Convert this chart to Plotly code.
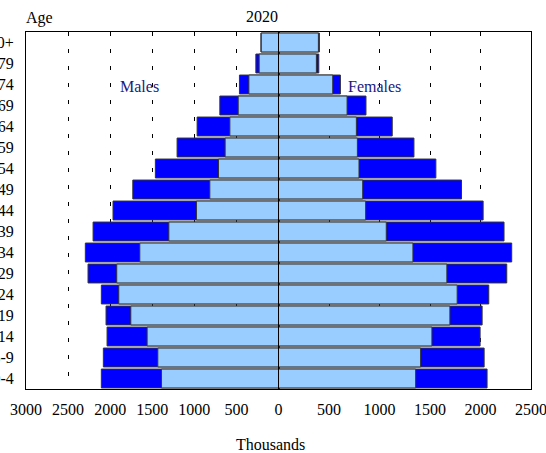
import plotly.graph_objects as go

ages = ["0-4", "5-9", "10-14", "15-19", "20-24", "25-29", "30-34", "35-39", "40-44",
        "45-49", "50-54", "55-59", "60-64", "65-69", "70-74", "75-79", "80+"]
male_total = [2105, 2081, 2037, 2049, 2105, 2263, 2295, 2203, 1966, 1731, 1463, 1205, 967, 697, 464, 269, 209]
male_part = [1391, 1434, 1561, 1755, 1898, 1922, 1648, 1303, 975, 816, 713, 634, 578, 479, 352, 230, 205]
female_total = [2065, 2036, 1996, 2016, 2082, 2260, 2309, 2233, 2026, 1812, 1558, 1341, 1126, 866, 613, 399, 405]
female_part = [1358, 1407, 1519, 1697, 1769, 1667, 1331, 1067, 863, 834, 797, 781, 771, 679, 537, 375, 395]
left_ticks = [3000, 2500, 2000, 1500, 1000, 500]
right_ticks = [0, 500, 1000, 1500, 2000, 2500]

DARK = "#0000ff"
LIGHT = "#99ccff"
EDGE = "#333333"
FONT = "Liberation Serif, Times New Roman, serif"
tf = dict(family=FONT, size=16, color="#000000")

fig = go.Figure()
fig.add_trace(go.Bar(y=ages, x=male_total, orientation="h", xaxis="x", yaxis="y",
                     marker=dict(color=DARK, line=dict(color=EDGE, width=1)), name="Males"))
fig.add_trace(go.Bar(y=ages, x=male_part, orientation="h", xaxis="x", yaxis="y",
                     marker=dict(color=LIGHT, line=dict(color=EDGE, width=1)), name="Males part"))
fig.add_trace(go.Bar(y=ages, x=female_total, orientation="h", xaxis="x2", yaxis="y2",
                     marker=dict(color=DARK, line=dict(color=EDGE, width=1)), name="Females"))
fig.add_trace(go.Bar(y=ages, x=female_part, orientation="h", xaxis="x2", yaxis="y2",
                     marker=dict(color=LIGHT, line=dict(color=EDGE, width=1)), name="Females part"))

grid = dict(showgrid=True, gridcolor="#000000", gridwidth=1, griddash="4px,13px")
fig.update_layout(
    width=546, height=453,
    margin=dict(l=26, r=15, t=32, b=64, autoexpand=False),
    paper_bgcolor="white", plot_bgcolor="white",
    barmode="overlay", bargap=0.1,
    showlegend=False,
    font=tf,
    xaxis=dict(domain=[0, 0.5], range=[3000, 0], tickvals=left_ticks, ticks="",
               showline=True, linecolor="#000000", linewidth=1, mirror=True, automargin=False,
               zeroline=False, ticklabelstandoff=6, tickfont=tf, ticklabeloverflow="allow", **grid),
    xaxis2=dict(domain=[0.5, 1], range=[0, 2500], tickvals=right_ticks, ticks="",
                showline=True, linecolor="#000000", linewidth=1, mirror=True, automargin=False,
                zeroline=False, anchor="y2", ticklabelstandoff=6, tickfont=tf,
                ticklabeloverflow="allow", **grid),
    yaxis=dict(range=[-0.5, 16.5], showline=True, linecolor="#000000", linewidth=1,
               mirror=True, ticks="", showgrid=False, ticklabelstandoff=8, automargin=False,
               tickfont=tf, ticklabeloverflow="allow"),
    yaxis2=dict(range=[-0.5, 16.5], showline=True, linecolor="#000000", linewidth=1,
                mirror=True, ticks="", showgrid=False, showticklabels=False, automargin=False,
                anchor="x2", matches="y"),
    annotations=[
        dict(text="Age", x=0, y=1, xref="paper", yref="paper", xanchor="left", yanchor="bottom",
             yshift=3, xshift=-2, showarrow=False, font=tf),
        dict(text="2020", x=0.467, y=1, xref="paper", yref="paper", xanchor="center", yanchor="bottom",
             yshift=5, showarrow=False, font=tf),
        dict(text="Males", x=1655, y="70-74", xref="x", yref="y", xanchor="center", yanchor="middle",
             yshift=-2, showarrow=False, font=dict(family=FONT, size=16, color="#1a1a80")),
        dict(text="Females", x=670, y="70-74", xref="x2", yref="y2", xanchor="left", yanchor="middle",
             yshift=-2, showarrow=False, font=dict(family=FONT, size=16, color="#1a1a80")),
        dict(text="Thousands", x=0.4832, y=0, xref="paper", yref="paper", xanchor="center", yanchor="top",
             yshift=-45, showarrow=False, font=tf),
    ],
)

fig.write_html("out.html", config={"displayModeBar": False},
               post_script="document.body.style.margin='0';document.body.style.overflow='hidden';")
